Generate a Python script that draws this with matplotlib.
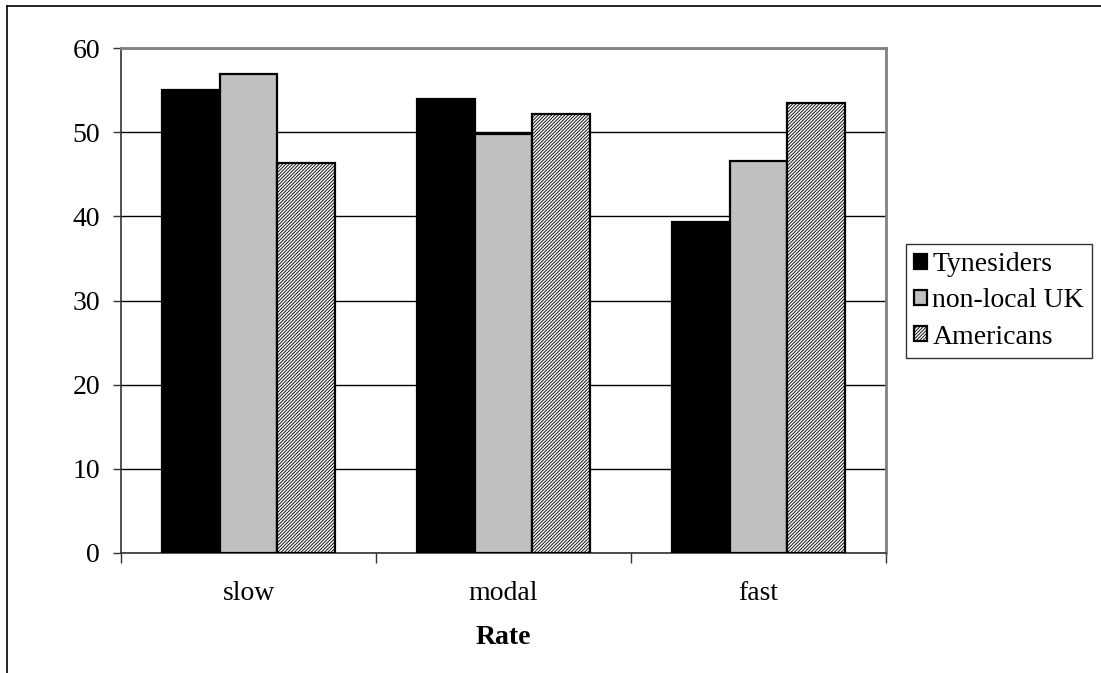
import matplotlib
matplotlib.use("Agg")
import matplotlib.pyplot as plt
import numpy as np
from matplotlib.lines import Line2D

categories = ["slow", "modal", "fast"]
series_names = ["Tynesiders", "non-local UK", "Americans"]
tynesiders = [55.0, 53.9, 39.3]
nonlocal_uk = [56.9, 49.8, 46.6]
americans = [46.3, 52.2, 53.5]
yticks = [0, 10, 20, 30, 40, 50, 60]

plt.rcParams['font.family'] = ['Liberation Serif', 'DejaVu Serif']
plt.rcParams['hatch.color'] = '#606060'
plt.rcParams['hatch.linewidth'] = 0.6

fig = plt.figure(figsize=(11.01, 6.73), dpi=100)
W, H = 1101, 673
ax = fig.add_axes([121 / W, (H - 553) / H, (886 - 121) / W, (553 - 48) / H])

x = np.arange(len(categories))
bw = 0.225
styles = [
    dict(facecolor='black', hatch=None),
    dict(facecolor='#c0c0c0', hatch=None),
    dict(facecolor='#f4f4f4', hatch='/' * 10),
]
data = [tynesiders, nonlocal_uk, americans]
for i, (vals, st, name) in enumerate(zip(data, styles, series_names)):
    ax.bar(x + (i - 1) * bw, vals, bw, facecolor=st['facecolor'],
           hatch=st['hatch'], edgecolor='black', linewidth=1.6,
           label=name, zorder=3)

ax.set_xlim(-0.5, 2.5)
ax.set_ylim(0, 60)
ax.set_yticks(yticks)
ax.set_yticklabels([str(v) for v in yticks], fontsize=20)
ax.set_xticks(x)
ax.set_xticklabels(categories, fontsize=20)
ax.tick_params(axis='x', length=0, pad=20)
ax.set_xticks([-0.5, 0.5, 1.5, 2.5], minor=True)
ax.tick_params(axis='x', which='minor', length=7, width=1, color='#333333', direction='out')
ax.tick_params(axis='y', length=6, width=1, color='#333333', direction='out', pad=9)
ax.grid(axis='y', color='black', linewidth=1, zorder=0)
ax.set_axisbelow(True)
for s in ['top', 'right']:
    ax.spines[s].set_color('#808080')
    ax.spines[s].set_linewidth(2)
for s in ['left', 'bottom']:
    ax.spines[s].set_color('#333333')
    ax.spines[s].set_linewidth(1.2)

ax.set_xlabel("Rate", fontsize=20, fontweight='bold', labelpad=14)

leg = fig.legend(loc='upper left', bbox_to_anchor=(906 / W, (H - 244) / H),
                 fontsize=20, frameon=True, fancybox=False, edgecolor='black',
                 handlelength=0.45, handleheight=0.45, handletextpad=0.2,
                 borderpad=0.3, labelspacing=0.4, borderaxespad=0)
leg.get_frame().set_linewidth(1)

# outer chart border (left and top visible)
fig.add_artist(Line2D([7 / W, 7 / W], [0, (H - 6) / H], color='black', lw=1.2, transform=fig.transFigure))
fig.add_artist(Line2D([7 / W, 1], [(H - 6) / H, (H - 6) / H], color='black', lw=1.2, transform=fig.transFigure))

fig.savefig("out.png", dpi=100)
